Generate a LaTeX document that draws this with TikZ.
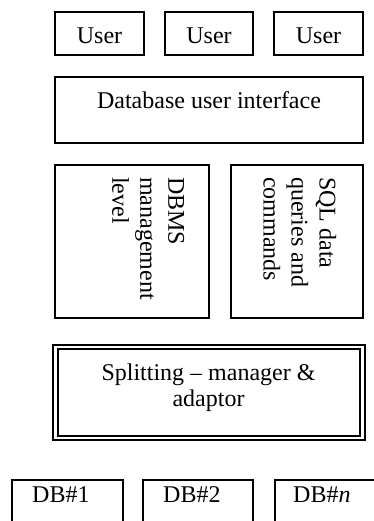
\documentclass[tikz,border=0pt]{standalone}
\usepackage{fontspec}
\setmainfont{Liberation Serif}
\begin{document}
\begin{tikzpicture}[x=1pt,y=-1pt,
  box/.style={draw=black,line width=1.6pt},
  txt/.style={font=\fontsize{24}{28}\selectfont,inner sep=0pt},
  vtxt/.style={txt,rotate=-90,align=left,anchor=north west},
  dline/.style={draw=black,line width=2pt}]
\useasboundingbox (0,0) rectangle (373,521);
% users
\draw[box] (55,12) rectangle (144,55);
\draw[box] (165,12) rectangle (253,55);
\draw[box] (274,12) rectangle (363,55);
\node[txt,anchor=base] (u1) at (99.5,44) {User};
\node[txt,anchor=base] (u2) at (209,44) {User};
\node[txt,anchor=base] (u3) at (318.5,44) {User};
% database user interface
\draw[box] (55,77) rectangle (363,143);
\node[txt,anchor=base] (dui) at (209,109) {Database user interface};
% DBMS and SQL
\draw[box] (55,165) rectangle (209,318);
\node[vtxt] (dbms) at (184.5,177) {DBMS\\management\\level};
\draw[box] (231,165) rectangle (363,318);
\node[vtxt] (sql) at (336.5,177) {SQL data\\queries and\\commands};
% splitting manager
\draw[dline] (52.5,344.5) rectangle (364.5,439.5);
\draw[dline] (57.5,349) rectangle (360,435.5);
\node[txt,anchor=base] (sp1) at (208.5,380) {Splitting -- manager \&};
\node[txt,anchor=base] (sp2) at (208.5,406) {adaptor};
% DBs
\draw[box] (12,530) -- (12,480) -- (123,480) -- (123,530);
\draw[box] (143,530) -- (143,480) -- (253,480) -- (253,530);
\draw[box] (275,530) -- (275,480) -- (380,480) -- (380,530);
\node[txt,anchor=base west] (db1) at (32,502) {DB\#1};
\node[txt,anchor=base west] (db2) at (163,502) {DB\#2};
\node[txt,anchor=base west] (dbn) at (293,502) {DB\#\textit{n}};
\end{tikzpicture}
\end{document}
